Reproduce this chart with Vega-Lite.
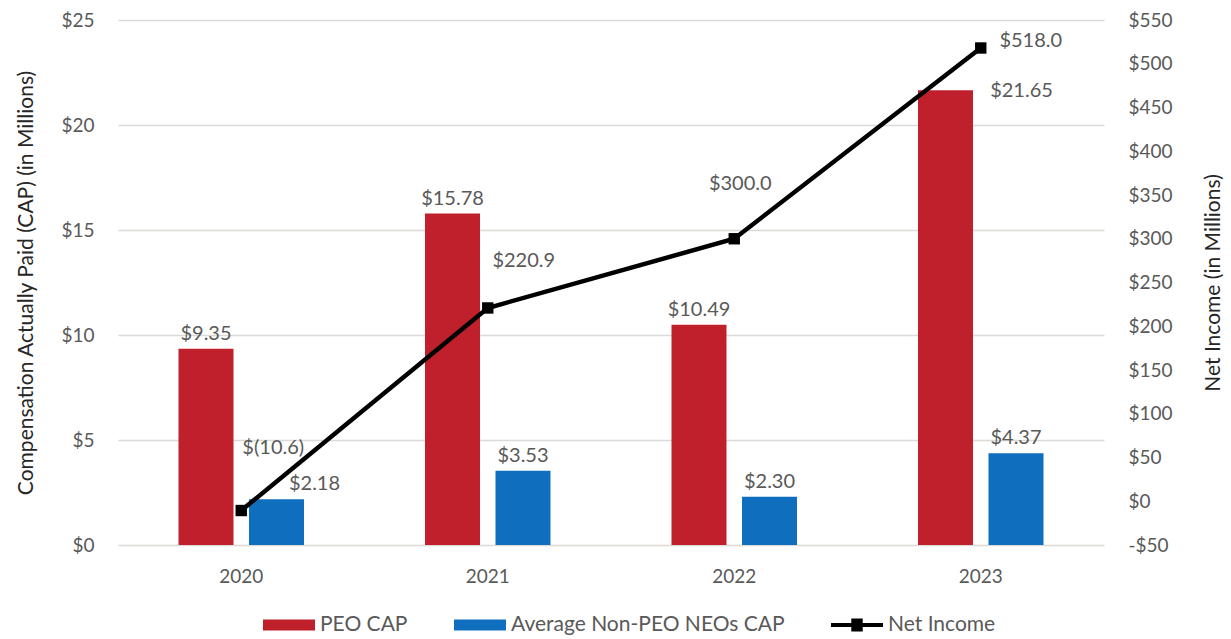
{
  "$schema": "https://vega.github.io/schema/vega-lite/v6.json",
  "width": 986,
  "height": 525,
  "autosize": {"type": "none"},
  "padding": {"left": 118, "top": 20, "right": 127, "bottom": 94},
  "background": "white",
  "config": {
    "view": {"stroke": null},
    "font": "Lato",
    "text": {"font": "Lato", "fontSize": 20, "color": "#595959"}
  },
  "datasets": {
    "bars": [
      {"year": "2020", "series": "PEO CAP", "value": 9.35, "label": "$9.35"},
      {"year": "2020", "series": "Average Non-PEO NEOs CAP", "value": 2.18, "label": "$2.18"},
      {"year": "2021", "series": "PEO CAP", "value": 15.78, "label": "$15.78"},
      {"year": "2021", "series": "Average Non-PEO NEOs CAP", "value": 3.53, "label": "$3.53"},
      {"year": "2022", "series": "PEO CAP", "value": 10.49, "label": "$10.49"},
      {"year": "2022", "series": "Average Non-PEO NEOs CAP", "value": 2.30, "label": "$2.30"},
      {"year": "2023", "series": "PEO CAP", "value": 21.65, "label": "$21.65"},
      {"year": "2023", "series": "Average Non-PEO NEOs CAP", "value": 4.37, "label": "$4.37"}
    ],
    "ni": [
      {"year": "2020", "series": "Net Income", "value": -10.6, "label": "$(10.6)"},
      {"year": "2021", "series": "Net Income", "value": 220.9, "label": "$220.9"},
      {"year": "2022", "series": "Net Income", "value": 300.0, "label": "$300.0"},
      {"year": "2023", "series": "Net Income", "value": 518.0, "label": "$518.0"}
    ]
  },
  "encoding": {
    "x": {
      "field": "year",
      "type": "nominal",
      "scale": {"paddingInner": 0, "paddingOuter": 0},
      "axis": {
        "title": null,
        "labelAngle": 0,
        "domain": false,
        "ticks": false,
        "labelPadding": 22,
        "labelFontSize": 19,
        "labelColor": "#595959",
        "labelFont": "Lato"
      }
    }
  },
  "layer": [
    {
      "data": {"name": "bars"},
      "encoding": {
        "y": {
          "field": "value",
          "type": "quantitative",
          "scale": {"domain": [0, 25], "nice": false, "zero": true},
          "axis": {
            "orient": "left",
            "values": [0, 5, 10, 15, 20, 25],
            "grid": true,
            "gridColor": "#dcd9d6",
            "gridWidth": 1.5,
            "domain": false,
            "ticks": false,
            "labelPadding": 24,
            "labelExpr": "'$' + datum.value",
            "labelFontSize": 19,
            "labelColor": "#595959",
            "labelFont": "Lato",
            "title": "Compensation Actually Paid (CAP) (in Millions)",
            "titleFont": "Lato",
            "titleFontSize": 21,
            "titleFontWeight": "normal",
            "titleColor": "#262626",
            "titlePadding": 24
          }
        },
        "xOffset": {
          "field": "series",
          "type": "nominal",
          "sort": ["PEO CAP", "Average Non-PEO NEOs CAP"],
          "scale": {"domain": ["PEO CAP", "Average Non-PEO NEOs CAP"], "paddingInner": 0.22, "paddingOuter": 0.858}
        }
      },
      "layer": [
        {
          "mark": {"type": "bar"},
          "encoding": {
            "color": {
              "field": "series",
              "type": "nominal",
              "scale": {
                "domain": ["PEO CAP", "Average Non-PEO NEOs CAP", "Net Income"],
                "range": ["#C0202B", "#0F6FBE", "#000000"]
              },
              "legend": {
                "orient": "none",
                "legendX": 145,
                "legendY": 579,
                "direction": "horizontal",
                "title": null,
                "symbolSize": 2704,
                "labelFontSize": 21,
                "labelFont": "Lato",
                "labelColor": "#595959",
                "labelOffset": 5,
                "labelLimit": 0,
                "columnPadding": 46,
                "padding": 0,
                "symbolStrokeWidth": 0,
                "encode": {
                  "symbols": {
                    "update": {
                      "shape": {"signal": "datum.value === 'Net Income' ? 'M-1,-0.08H-0.22V-0.25H0.22V-0.08H1V0.08H0.22V0.25H-0.22V0.08H-1Z' : 'M-1,-0.21H1V0.21H-1Z'"},
                      "fill": {"scale": "color", "field": "value"},
                      "opacity": {"value": 1},
                      "strokeWidth": {"value": 0}
                    }
                  }
                }
              }
            }
          }
        },
        {
          "transform": [{"filter": "!((datum.year === '2020' && datum.series === 'Average Non-PEO NEOs CAP') || (datum.year === '2023' && datum.series === 'PEO CAP'))"}],
          "mark": {"type": "text", "baseline": "alphabetic", "align": "center", "dy": -9},
          "encoding": {"text": {"field": "label"}}
        },
        {
          "transform": [{"filter": "datum.year === '2020' && datum.series === 'Average Non-PEO NEOs CAP'"}],
          "mark": {"type": "text", "baseline": "alphabetic", "align": "center", "dx": 38, "dy": -9},
          "encoding": {"text": {"field": "label"}}
        },
        {
          "transform": [{"filter": "datum.year === '2023' && datum.series === 'PEO CAP'"}],
          "mark": {"type": "text", "baseline": "alphabetic", "align": "center", "dx": 76, "dy": 7},
          "encoding": {"text": {"field": "label"}}
        }
      ]
    },
    {
      "data": {"name": "ni"},
      "encoding": {
        "y": {
          "field": "value",
          "type": "quantitative",
          "scale": {"domain": [-50, 550], "nice": false, "zero": false},
          "axis": {
            "orient": "right",
            "values": [-50, 0, 50, 100, 150, 200, 250, 300, 350, 400, 450, 500, 550],
            "grid": false,
            "domain": false,
            "ticks": false,
            "labelPadding": 24,
            "labelExpr": "datum.value < 0 ? '-$' + abs(datum.value) : '$' + datum.value",
            "labelFontSize": 19,
            "labelColor": "#595959",
            "labelFont": "Lato",
            "title": "Net Income (in Millions)",
            "titleFont": "Lato",
            "titleFontSize": 21,
            "titleFontWeight": "normal",
            "titleColor": "#262626",
            "titleAngle": 270,
            "titleBaseline": "top",
            "titlePadding": 30
          }
        }
      },
      "layer": [
        {"mark": {"type": "line", "color": "#000000", "strokeWidth": 4.5}},
        {"mark": {"type": "square", "size": 130, "color": "#000000", "filled": true, "opacity": 1}},
        {
          "transform": [{"filter": "datum.year === '2020'"}],
          "mark": {"type": "text", "baseline": "alphabetic", "align": "center", "dx": 32, "dy": -57},
          "encoding": {"text": {"field": "label"}}
        },
        {
          "transform": [{"filter": "datum.year === '2021'"}],
          "mark": {"type": "text", "baseline": "alphabetic", "align": "center", "dx": 36, "dy": -41},
          "encoding": {"text": {"field": "label"}}
        },
        {
          "transform": [{"filter": "datum.year === '2022'"}],
          "mark": {"type": "text", "baseline": "alphabetic", "align": "center", "dx": 6, "dy": -49},
          "encoding": {"text": {"field": "label"}}
        },
        {
          "transform": [{"filter": "datum.year === '2023'"}],
          "mark": {"type": "text", "baseline": "alphabetic", "align": "center", "dx": 50, "dy": -1},
          "encoding": {"text": {"field": "label"}}
        }
      ]
    }
  ],
  "resolve": {"scale": {"y": "independent"}}
}
